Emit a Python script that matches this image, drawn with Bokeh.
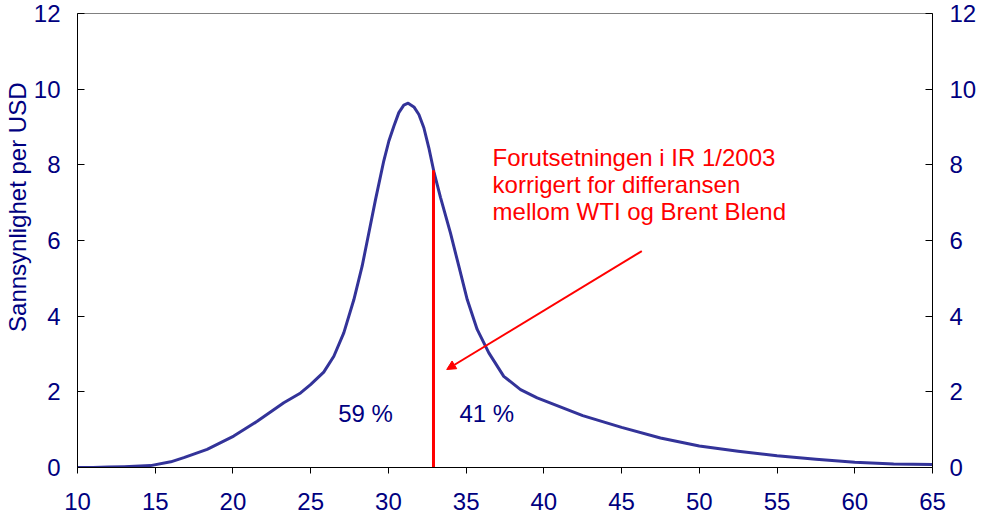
from bokeh.plotting import figure
from bokeh.models import Range1d, LinearAxis, FixedTicker, Arrow, NormalHead, Title
from bokeh.core.properties import value
from bokeh.embed import file_html
from bokeh.resources import INLINE

# ---- data ----
price = [10, 11, 12, 13, 14.7, 16, 16.84, 18.34, 20.05, 21.56, 23.27, 24.35,
         24.99, 25.84, 26.49, 27.13, 27.78, 28.31, 28.74, 29.17, 29.7, 30.03,
         30.35, 30.67, 30.99, 31.27, 31.64, 31.96, 32.28, 32.6, 32.92, 33.35,
         33.99, 34.53, 35.07, 35.71, 36.46, 37.42, 38.5, 39.57, 42.5, 45, 47.5,
         50, 52.5, 55, 57.5, 60, 62.5, 65]
density = [0.0, 0.0, 0.01, 0.02, 0.05, 0.15, 0.26, 0.48, 0.83, 1.22, 1.71, 1.97,
           2.19, 2.52, 2.94, 3.56, 4.44, 5.32, 6.2, 7.08, 8.1, 8.63,
           9.02, 9.38, 9.58, 9.63, 9.53, 9.33, 8.98, 8.45, 7.83, 7.14,
           6.2, 5.32, 4.44, 3.65, 3.03, 2.41, 2.06, 1.84, 1.37, 1.06, 0.78,
           0.57, 0.43, 0.31, 0.22, 0.14, 0.09, 0.08]
cutoff_price = 32.9
cutoff_density = 7.86
share_labels = ["59 %", "41 %"]
annotation_lines = ["Forutsetningen i IR 1/2003",
                    "korrigert for differansen",
                    "mellom WTI og Brent Blend"]
y_title = "Sannsynlighet per USD"
x_ticks = [10, 15, 20, 25, 30, 35, 40, 45, 50, 55, 60, 65]
y_ticks = [0, 2, 4, 6, 8, 10, 12]

NAVY = "#000080"
CURVE = "#333399"
RED = "#ff0000"
FONT = "Liberation Sans"

p = figure(width=985, height=518,
           x_range=Range1d(10, 65), y_range=Range1d(0, 12),
           output_backend="svg", toolbar_location=None,
           min_border_left=77, min_border_right=53,
           min_border_top=13, min_border_bottom=51)
p.xgrid.visible = False
p.ygrid.visible = False
p.outline_line_color = "#808080"
p.outline_line_width = 1
p.background_fill_color = "white"
p.border_fill_color = "white"

# x axis
xa = p.xaxis[0]
xa.ticker = FixedTicker(ticks=x_ticks)
xa.major_tick_out = 6
xa.major_tick_in = 0
xa.minor_tick_line_color = None
xa.axis_line_color = "black"
xa.major_tick_line_color = "black"
xa.major_label_text_font = FONT
xa.major_label_text_font_size = "24px"
xa.major_label_text_color = NAVY
xa.major_label_standoff = 19

# left y axis
ya = p.yaxis[0]
ya.ticker = FixedTicker(ticks=y_ticks)
ya.major_tick_in = 7
ya.major_tick_out = 0
ya.minor_tick_line_color = None
ya.axis_line_color = "black"
ya.major_tick_line_color = "black"
ya.major_label_text_font = FONT
ya.major_label_text_font_size = "24px"
ya.major_label_text_color = NAVY
ya.major_label_standoff = 17

# right y axis
ra = LinearAxis(ticker=FixedTicker(ticks=y_ticks))
ra.major_tick_in = 7
ra.major_tick_out = 0
ra.minor_tick_line_color = None
ra.axis_line_color = "black"
ra.major_tick_line_color = "black"
ra.major_label_text_font = FONT
ra.major_label_text_font_size = "24px"
ra.major_label_text_color = NAVY
ra.major_label_standoff = 17
p.add_layout(ra, "right")

# y axis title, as a left-side title shifted towards the top
p.add_layout(Title(text=y_title, align="right", offset=69, standoff=0,
                   text_font=FONT, text_font_size="24px",
                   text_font_style="normal", text_color=NAVY), "left")

# curve
p.line(price, density, line_color=CURVE, line_width=3, line_join="round")

# cutoff line
p.segment(x0=[cutoff_price], y0=[0], x1=[cutoff_price], y1=[cutoff_density],
          line_color=RED, line_width=3)

# share labels
p.text(x=[28.53, 36.33], y=[1.42, 1.42], text=share_labels,
       text_font=value(FONT), text_font_size="24px", text_color=NAVY,
       text_align="center", text_baseline="alphabetic")

# annotation
p.text(x=[36.70, 36.70, 36.70], y=[8.20, 7.47, 6.77], text=annotation_lines,
       text_font=value(FONT), text_font_size="24px", text_color=RED,
       text_align="left", text_baseline="alphabetic")

p.add_layout(Arrow(end=NormalHead(size=9, fill_color=RED, line_color=RED, line_width=1),
                   x_start=46.3, y_start=5.72, x_end=33.75, y_end=2.59,
                   line_color=RED, line_width=2))

open("out.html", "w").write(file_html(p, INLINE))
